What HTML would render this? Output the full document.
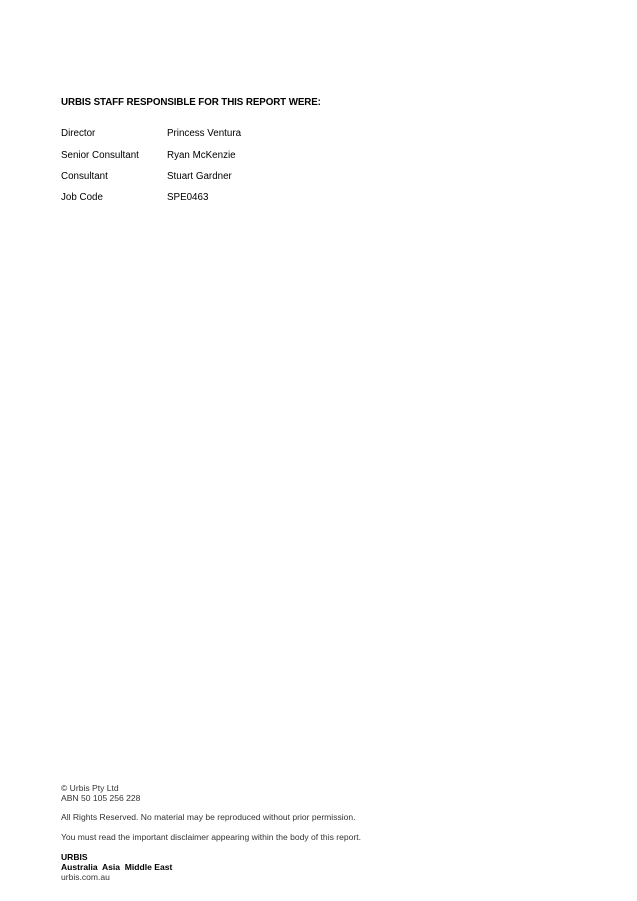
<!DOCTYPE html>
<html><head><style>
body{margin:0;width:637px;height:901px;background:#fff;position:relative;font-family:"Liberation Sans",Arial,sans-serif;color:#000}
.t{position:absolute;white-space:nowrap;line-height:1}
.m{font-size:9.8px}
.f{font-size:8.55px;color:#333}
.b{font-weight:bold;color:#000}
</style></head><body>
<div class="t m b" style="left:61px;top:98px;letter-spacing:-0.1px">URBIS STAFF RESPONSIBLE FOR THIS REPORT WERE:</div>
<div class="t m" style="left:61px;top:129px">Director</div><div class="t m" style="left:167px;top:129px">Princess Ventura</div>
<div class="t m" style="left:61px;top:151px">Senior Consultant</div><div class="t m" style="left:167px;top:151px">Ryan McKenzie</div>
<div class="t m" style="left:61px;top:172px">Consultant</div><div class="t m" style="left:167px;top:172px">Stuart Gardner</div>
<div class="t m" style="left:61px;top:193px">Job Code</div><div class="t m" style="left:167px;top:193px">SPE0463</div>
<div class="t f" style="left:61px;top:784px">© Urbis Pty Ltd</div>
<div class="t f" style="left:61px;top:794px">ABN 50 105 256 228</div>
<div class="t f" style="left:61px;top:813px">All Rights Reserved. No material may be reproduced without prior permission.</div>
<div class="t f" style="left:61px;top:833px">You must read the important disclaimer appearing within the body of this report.</div>
<div class="t f b" style="left:61px;top:853px">URBIS</div>
<div class="t f b" style="left:61px;top:863px">Australia&nbsp; Asia&nbsp; Middle East</div>
<div class="t f" style="left:61px;top:873px">urbis.com.au</div>
</body></html>
